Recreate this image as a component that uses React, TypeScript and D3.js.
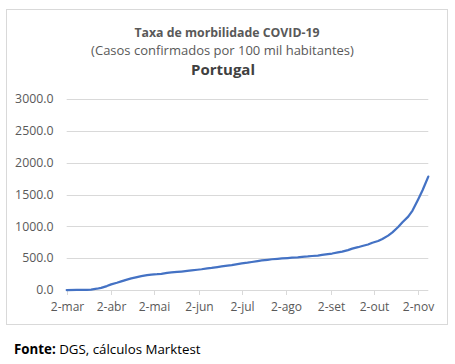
import * as d3 from 'd3'

// cumulative confirmed cases per 100k inhabitants
const dates = [
  '2020-03-02', '2020-03-09', '2020-03-16', '2020-03-19', '2020-03-23', '2020-03-26', '2020-03-30',
  '2020-04-02', '2020-04-06', '2020-04-09', '2020-04-13', '2020-04-16', '2020-04-20', '2020-04-23',
  '2020-04-27', '2020-04-30', '2020-05-04', '2020-05-07', '2020-05-11', '2020-05-14', '2020-05-18',
  '2020-05-21', '2020-05-25', '2020-05-28', '2020-06-01', '2020-06-04', '2020-06-08', '2020-06-11',
  '2020-06-15', '2020-06-18', '2020-06-22', '2020-06-25', '2020-06-29', '2020-07-02', '2020-07-06',
  '2020-07-09', '2020-07-13', '2020-07-16', '2020-07-20', '2020-07-23', '2020-07-27', '2020-07-30',
  '2020-08-03', '2020-08-06', '2020-08-10', '2020-08-13', '2020-08-17', '2020-08-20', '2020-08-24',
  '2020-08-27', '2020-08-31', '2020-09-03', '2020-09-07', '2020-09-10', '2020-09-14', '2020-09-17',
  '2020-09-21', '2020-09-24', '2020-09-28', '2020-10-01', '2020-10-05', '2020-10-08', '2020-10-12',
  '2020-10-15', '2020-10-19', '2020-10-22', '2020-10-26', '2020-10-29', '2020-11-02', '2020-11-05',
  '2020-11-09',
]
const values = [
  0, 0.3, 3.2, 7.6, 20, 34, 62,
  88, 114, 136, 164, 183, 203, 217,
  232, 243, 248, 254, 268, 275, 284,
  290, 299, 307, 318, 326, 339, 346,
  360, 370, 383, 392, 407, 419, 429,
  440, 455, 464, 474, 483, 490, 496,
  502, 508, 513, 520, 527, 534, 541,
  550, 563, 573, 591, 603, 627, 650,
  672, 691, 715, 742, 769, 801, 854,
  906, 989, 1064, 1152, 1247, 1426, 1567,
  1781,
]
const yTicks = [0, 500, 1000, 1500, 2000, 2500, 3000]
const xTickDates = ['2020-03-02', '2020-04-02', '2020-05-02', '2020-06-02', '2020-07-02', '2020-08-02', '2020-09-02', '2020-10-02', '2020-11-02']
const xTickLabels = ['2-mar', '2-abr', '2-mai', '2-jun', '2-jul', '2-ago', '2-set', '2-out', '2-nov']

const W = 455
const H = 364
const font = '"Open Sans", "DejaVu Sans", sans-serif'
const parse = d3.utcParse('%Y-%m-%d')

export default function App() {
  const x = d3
    .scaleUtc()
    .domain([parse('2020-03-02')!, parse('2020-11-09')!])
    .range([66.7, 428.3])
  const y = d3.scaleLinear().domain([0, 3000]).range([290, 99])

  const pts = dates.map((d, i) => ({ date: parse(d)!, v: values[i] }))
  const line = d3
    .line<{ date: Date; v: number }>()
    .x((d) => x(d.date))
    .y((d) => y(d.v))

  return (
    <svg
      width={W}
      height={H}
      style={{ position: 'absolute', left: 0, top: 0, background: '#fff', fontFamily: font }}
    >
      <rect x={6.5} y={9.5} width={441} height={315} fill="#fff" stroke="#D9D9D9" />

      <text x={227} y={37} textAnchor="middle" fontSize={12.3} fontWeight="bold" fill="#595959">
        Taxa de morbilidade COVID-19
      </text>
      <text x={222.5} y={55} textAnchor="middle" fontSize={13} fill="#595959">
        (Casos confirmados por 100 mil habitantes)
      </text>
      <text x={223} y={75} textAnchor="middle" fontSize={15} fontWeight="bold" fill="#404040">
        Portugal
      </text>

      {yTicks.map((t) => (
        <g key={t}>
          <line x1={66.7} x2={428.3} y1={Math.round(y(t)) + 0.5} y2={Math.round(y(t)) + 0.5} stroke="#D9D9D9" />
          <text x={53.5} y={y(t)} dy="0.35em" textAnchor="end" fontSize={12.3} fill="#595959">
            {d3.format('.1f')(t)}
          </text>
        </g>
      ))}

      {xTickDates.map((d, i) => {
        const px = Math.round(x(parse(d)!)) + 0.5
        return (
          <g key={d}>
            <line x1={px} x2={px} y1={290} y2={295} stroke="#D9D9D9" />
            <text x={px} y={307} dy="0.35em" textAnchor="middle" fontSize={12} fill="#595959">
              {xTickLabels[i]}
            </text>
          </g>
        )
      })}

      <path d={line(pts) ?? ''} fill="none" stroke="#4472C4" strokeWidth={2.25} strokeLinejoin="round" strokeLinecap="round" />

      <text x={14} y={354} fontSize={13.3} fill="#000">
        <tspan fontWeight="bold">Fonte:</tspan> DGS, cálculos Marktest
      </text>
    </svg>
  )
}
